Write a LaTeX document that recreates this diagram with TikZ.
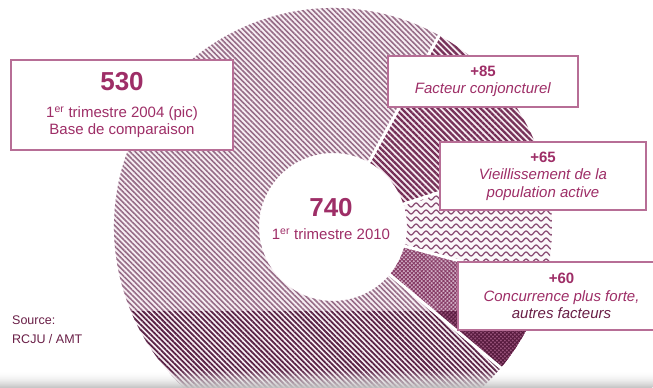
\documentclass[tikz,border=0pt]{standalone}
\usepackage{fontspec}
\setmainfont{Liberation Sans}
\usetikzlibrary{patterns.meta,decorations.pathmorphing,fadings}

\definecolor{plum}{RGB}{158,46,103}
\definecolor{plumedge}{RGB}{183,110,150}
\definecolor{plumdark}{RGB}{105,30,70}
\definecolor{baseC}{RGB}{150,108,135}
\definecolor{baseD}{RGB}{90,35,70}
\definecolor{cycC}{RGB}{118,48,88}
\definecolor{ageC}{RGB}{140,80,118}
\definecolor{otherF}{RGB}{210,175,198}
\definecolor{otherC}{RGB}{135,60,102}
\definecolor{otherDF}{RGB}{150,80,120}
\definecolor{otherDC}{RGB}{85,25,60}

\newcommand{\sector}[2]{(#1:74) -- (#1:219) arc[start angle=#1,end angle=#2,radius=219] -- (#2:74) arc[start angle=#2,end angle=#1,radius=74] -- cycle}

\begin{document}
\begin{tikzpicture}[x=1pt,y=1pt,
  box/.style={draw=plumedge,line width=1.1pt,fill=white,align=center,text=plum,inner sep=0pt,font=\fontsize{15}{17.5}\selectfont},
  gap/.style={white,line width=3pt},
  wave/.style={draw=ageC,line width=1.3pt,decorate,decoration={snake,amplitude=2pt,segment length=10pt}}]
\useasboundingbox (0,0) rectangle (653,388);
\begin{scope}[shift={(333,161)}]
% the four segments of the ring
\fill[white!92!plum] \sector{61}{320};
\path[pattern={Lines[angle=-45,distance=3.7pt,line width=1.6pt]},pattern color=baseC] \sector{61}{320};
\fill[white!90!plum] \sector{18}{61};
\path[pattern={Lines[angle=-45,distance=4.3pt,line width=2.3pt]},pattern color=cycC] \sector{18}{61};
\fill[white!96!plum] \sector{-15}{18};
\begin{scope}
\clip \sector{-15}{18};
\foreach \y in {-62,-55,...,76} \draw[wave] (60,\y) -- (230,\y);
\end{scope}
\fill[otherF] \sector{-40}{-15};
\path[pattern={Hatch[angle=45,distance=2.8pt,line width=0.9pt]},pattern color=otherC] \sector{-40}{-15};
% darker band at the bottom
\begin{scope}
\clip (-340,-170) rectangle (330,-85);
\fill[white!92!plum] \sector{61}{320};
\path[pattern={Lines[angle=-45,distance=3.7pt,line width=1.8pt]},pattern color=baseD] \sector{61}{320};
\fill[otherDF] \sector{-40}{-15};
\path[pattern={Hatch[angle=45,distance=2.8pt,line width=0.9pt]},pattern color=otherDC] \sector{-40}{-15};
\end{scope}
\foreach \a in {61,18,-15,-40} \draw[gap] (\a:70) -- (\a:224);
\end{scope}
\shade[top color=white,bottom color=black!25,path fading=north] (0,0) rectangle (653,18);

\node[box,minimum width=222pt,minimum height=90pt] (base) at (122,283) {{\fontsize{26}{28}\selectfont\bfseries 530}\\[9.5pt] 1\textsuperscript{er} trimestre 2004 (pic)\\ Base de comparaison};
\node[box,minimum width=190pt,minimum height=51pt] (cyc) at (483,306.5) {\textbf{+85}\\ \textit{Facteur conjoncturel}};
\node[box,minimum width=206pt,minimum height=68pt] (age) at (543,212) {\textbf{+65}\\ \textit{Vieillissement de la}\\ \textit{population active}};
\node[box,minimum width=207pt,minimum height=68pt] (other) at (561.5,92) {\textbf{+60}\\ \textit{Concurrence plus forte,}\\ \textcolor{plumdark}{\textit{autres facteurs}}};
\node[align=center,text=plum,inner sep=0pt,font=\fontsize{15}{17.5}\selectfont] (total) at (331,169) {{\fontsize{26}{28}\selectfont\bfseries 740}\\[6pt] 1\textsuperscript{er} trimestre 2010};
\node[anchor=west,align=left,text=plumdark,inner sep=0pt,font=\fontsize{12.5}{19}\selectfont] (src) at (12,58.5) {Source:\\ RCJU / AMT};
\end{tikzpicture}
\end{document}
